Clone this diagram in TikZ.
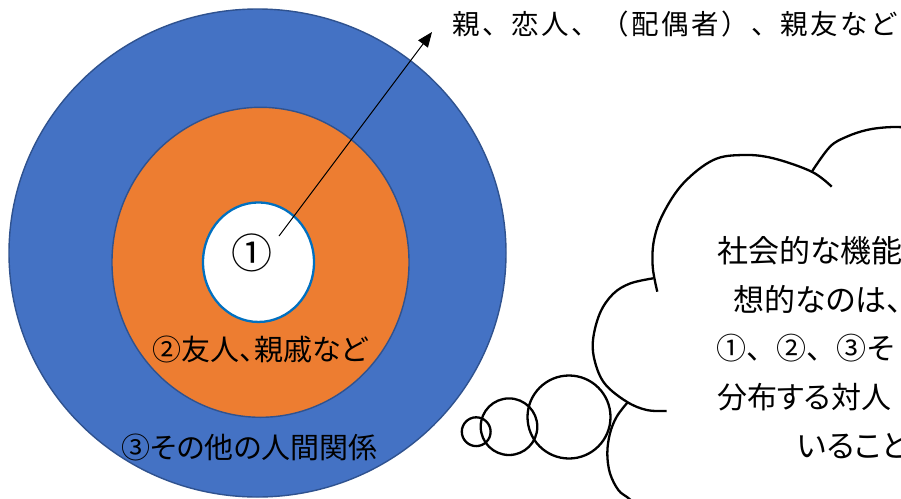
\documentclass[tikz,border=0pt]{standalone}
\usepackage{fontspec}
\setmainfont{Noto Sans CJK JP}[RawFeature=+palt]
\newfontfamily\jpfull{Noto Sans CJK JP}[LetterSpace=8.7]
\newfontfamily\jpplain{Noto Sans CJK JP}
\usetikzlibrary{shapes.geometric,arrows.meta}
\definecolor{outerblue}{HTML}{4472C4}
\definecolor{ringline}{HTML}{2F528F}
\definecolor{orangefill}{HTML}{ED7D31}
\definecolor{innerline}{HTML}{0070C0}
\tikzset{
  ring/.style={ellipse, inner sep=0pt, line width=1.4pt},
  lbl/.style={inner sep=0pt, font=\fontsize{29}{35}\selectfont},
  onelbl/.style={inner sep=0pt, font=\jpplain\fontsize{41}{46}\selectfont},
  toplbl/.style={inner sep=0pt, anchor=west, font=\jpfull\fontsize{27.5}{32}\selectfont},
  cloudtxt/.style={inner sep=0pt, anchor=west, font=\fontsize{31}{37}\selectfont},
  cloudplain/.style={inner sep=0pt, anchor=west, font=\jpplain\fontsize{30}{37}\selectfont},
  bubble/.style={circle, draw=black, line width=2.3pt, inner sep=0pt},
  cloudline/.style={draw=black, line width=2.3pt, line cap=butt},
  pointer/.style={draw=black, line width=1pt, -{Triangle[length=15pt,width=12pt]}}
}
\begin{document}
\begin{tikzpicture}[x=1pt,y=-1pt]
\useasboundingbox (0,0) rectangle (901,498);
\clip (0,0) rectangle (901,498);
\fill[white] (0,0) rectangle (901,498);
% concentric rings
\node[ring, fill=outerblue, draw=ringline, minimum width=497pt, minimum height=488pt] (outer) at (257.5,253) {};
\node[ring, fill=orangefill, draw=ringline, minimum width=297pt, minimum height=310pt] (middle) at (260.5,262.3) {};
\node[ring, fill=white, draw=innerline, line width=2.3pt, minimum width=111pt, minimum height=119.5pt] (inner) at (258.5,262.2) {};
% labels
\node[onelbl] (one) at (252,253) {①};
\node[lbl] (two) at (260,349) {②友人、親戚など};
\node[lbl] (three) at (249.5,447) {③その他の人間関係};
\node[toplbl] (top) at (452,24) {親、恋人、（配偶者）、親友など};
% arrow
\coordinate (arrowstart) at (279,236);
\coordinate (arrowtip) at (432,32);
\draw[pointer] (arrowstart) -- (arrowtip);
% thought bubbles
\node[bubble, minimum size=28.8pt] (b1) at (476.2,431.7) {};
\node[bubble, minimum size=56.6pt] (b2) at (509,426.7) {};
\node[bubble, minimum size=83pt] (b3) at (569,417) {};
% cloud outline (visible part)
\draw[cloudline] plot[smooth, tension=0.6] coordinates {(812.3,171) (830,146.7) (846.7,136.7) (866.7,130) (886.7,127.3) (905,127.3) (920,129)};
\draw[cloudline] plot[smooth, tension=0.6] coordinates {(831.7,186.7) (811.7,171.7) (773.3,158.3) (743.3,155) (713.3,160) (683.3,183.3) (663.3,213.3) (654,240) (652.7,266.7) (657.3,291.7)};
\draw[cloudline] plot[smooth, tension=0.6] coordinates {(653.3,278.3) (630,283.5) (613,294) (600,313) (593,340) (595,362) (605,384) (626.7,401.7) (646.7,410) (666.7,411)};
\draw[cloudline] plot[smooth, tension=0.6] coordinates {(627.5,402.5) (616.7,416.7) (610,433.3) (607.3,453.3) (610,473.3) (618.3,490) (628.3,498) (640,508)};
% cloud text (cut by the picture edge)
\node[cloudtxt] (c1) at (717,251) {社会的な機能};
\node[cloudtxt] (c2) at (733,299) {想的なのは、};
\node[cloudplain] (c3) at (716,348) {①、②、③そ};
\node[cloudtxt, font=\fontsize{30}{37}\selectfont] (c4) at (717,397) {分布する対人};
\node[cloudtxt] (c5) at (797,446) {いること};
\end{tikzpicture}
\end{document}
